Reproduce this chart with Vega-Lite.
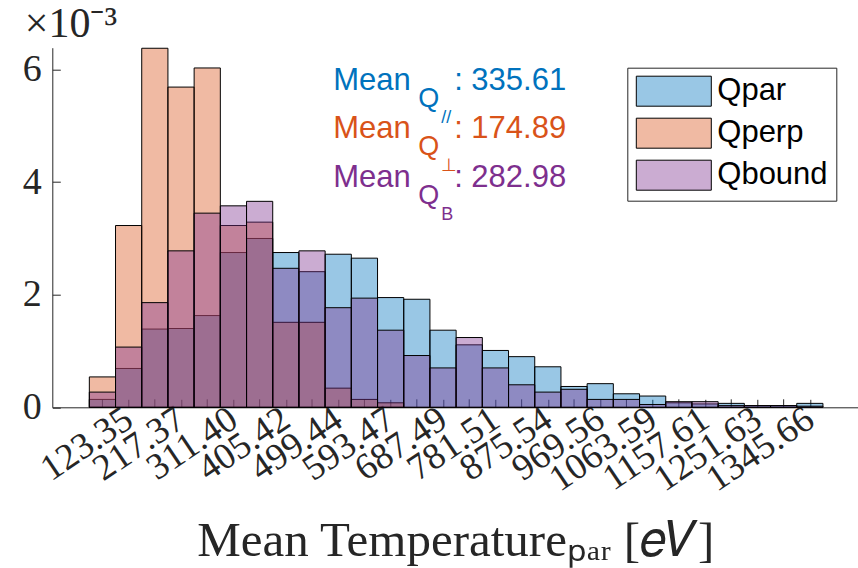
{
  "$schema": "https://vega.github.io/schema/vega-lite/v6.json",
  "width": 806,
  "height": 359.6,
  "autosize": {"type": "none"},
  "padding": {"left": 52.3, "top": 47.7, "right": 0, "bottom": 160.7},
  "background": "white",
  "config": {
    "view": {"stroke": null},
    "axis": {
      "domainColor": "#262626", "tickColor": "#262626", "labelColor": "#262626", "titleColor": "#262626",
      "labelFont": "Liberation Serif", "titleFont": "Liberation Serif", "grid": false,
      "tickSize": -8, "domainWidth": 1, "tickWidth": 1, "titleFontWeight": "normal"
    }
  },
  "datasets": {
    "hist": [
      {"series": "Qpar", "bin_lo": 52.84, "bin_hi": 99.85, "density": 0.00014},
      {"series": "Qpar", "bin_lo": 99.85, "bin_hi": 146.86, "density": 0.00069},
      {"series": "Qpar", "bin_lo": 146.86, "bin_hi": 193.88, "density": 0.00139},
      {"series": "Qpar", "bin_lo": 193.88, "bin_hi": 240.89, "density": 0.0014},
      {"series": "Qpar", "bin_lo": 240.89, "bin_hi": 287.9, "density": 0.00163},
      {"series": "Qpar", "bin_lo": 287.9, "bin_hi": 334.91, "density": 0.00275},
      {"series": "Qpar", "bin_lo": 334.91, "bin_hi": 381.92, "density": 0.003},
      {"series": "Qpar", "bin_lo": 381.92, "bin_hi": 428.93, "density": 0.00275},
      {"series": "Qpar", "bin_lo": 428.93, "bin_hi": 475.95, "density": 0.00241},
      {"series": "Qpar", "bin_lo": 475.95, "bin_hi": 522.96, "density": 0.00272},
      {"series": "Qpar", "bin_lo": 522.96, "bin_hi": 569.97, "density": 0.00265},
      {"series": "Qpar", "bin_lo": 569.97, "bin_hi": 616.98, "density": 0.00195},
      {"series": "Qpar", "bin_lo": 616.98, "bin_hi": 663.99, "density": 0.00192},
      {"series": "Qpar", "bin_lo": 663.99, "bin_hi": 711.0, "density": 0.00137},
      {"series": "Qpar", "bin_lo": 711.0, "bin_hi": 758.02, "density": 0.00111},
      {"series": "Qpar", "bin_lo": 758.02, "bin_hi": 805.03, "density": 0.00101},
      {"series": "Qpar", "bin_lo": 805.03, "bin_hi": 852.04, "density": 0.0009},
      {"series": "Qpar", "bin_lo": 852.04, "bin_hi": 899.05, "density": 0.00072},
      {"series": "Qpar", "bin_lo": 899.05, "bin_hi": 946.06, "density": 0.00037},
      {"series": "Qpar", "bin_lo": 946.06, "bin_hi": 993.07, "density": 0.00042},
      {"series": "Qpar", "bin_lo": 993.07, "bin_hi": 1040.09, "density": 0.00024},
      {"series": "Qpar", "bin_lo": 1040.09, "bin_hi": 1087.1, "density": 0.0002},
      {"series": "Qpar", "bin_lo": 1087.1, "bin_hi": 1134.11, "density": 0.00008},
      {"series": "Qpar", "bin_lo": 1134.11, "bin_hi": 1181.12, "density": 0.00006},
      {"series": "Qpar", "bin_lo": 1181.12, "bin_hi": 1228.13, "density": 0.00007},
      {"series": "Qpar", "bin_lo": 1228.13, "bin_hi": 1275.14, "density": 0.00003},
      {"series": "Qpar", "bin_lo": 1275.14, "bin_hi": 1322.16, "density": 0.00003},
      {"series": "Qpar", "bin_lo": 1322.16, "bin_hi": 1369.17, "density": 0.00007},
      {"series": "Qperp", "bin_lo": 52.84, "bin_hi": 99.85, "density": 0.00054},
      {"series": "Qperp", "bin_lo": 99.85, "bin_hi": 146.86, "density": 0.00323},
      {"series": "Qperp", "bin_lo": 146.86, "bin_hi": 193.88, "density": 0.00638},
      {"series": "Qperp", "bin_lo": 193.88, "bin_hi": 240.89, "density": 0.00569},
      {"series": "Qperp", "bin_lo": 240.89, "bin_hi": 287.9, "density": 0.00603},
      {"series": "Qperp", "bin_lo": 287.9, "bin_hi": 334.91, "density": 0.00323},
      {"series": "Qperp", "bin_lo": 334.91, "bin_hi": 381.92, "density": 0.00329},
      {"series": "Qperp", "bin_lo": 381.92, "bin_hi": 428.93, "density": 0.00151},
      {"series": "Qperp", "bin_lo": 428.93, "bin_hi": 475.95, "density": 0.00151},
      {"series": "Qperp", "bin_lo": 475.95, "bin_hi": 522.96, "density": 0.00034},
      {"series": "Qperp", "bin_lo": 522.96, "bin_hi": 569.97, "density": 0.00014},
      {"series": "Qperp", "bin_lo": 569.97, "bin_hi": 616.98, "density": 0.00008},
      {"series": "Qbound", "bin_lo": 52.84, "bin_hi": 99.85, "density": 0.00027},
      {"series": "Qbound", "bin_lo": 99.85, "bin_hi": 146.86, "density": 0.00107},
      {"series": "Qbound", "bin_lo": 146.86, "bin_hi": 193.88, "density": 0.00186},
      {"series": "Qbound", "bin_lo": 193.88, "bin_hi": 240.89, "density": 0.00278},
      {"series": "Qbound", "bin_lo": 240.89, "bin_hi": 287.9, "density": 0.00345},
      {"series": "Qbound", "bin_lo": 287.9, "bin_hi": 334.91, "density": 0.00358},
      {"series": "Qbound", "bin_lo": 334.91, "bin_hi": 381.92, "density": 0.00366},
      {"series": "Qbound", "bin_lo": 381.92, "bin_hi": 428.93, "density": 0.00247},
      {"series": "Qbound", "bin_lo": 428.93, "bin_hi": 475.95, "density": 0.00278},
      {"series": "Qbound", "bin_lo": 475.95, "bin_hi": 522.96, "density": 0.00177},
      {"series": "Qbound", "bin_lo": 522.96, "bin_hi": 569.97, "density": 0.00194},
      {"series": "Qbound", "bin_lo": 569.97, "bin_hi": 616.98, "density": 0.00137},
      {"series": "Qbound", "bin_lo": 616.98, "bin_hi": 663.99, "density": 0.00092},
      {"series": "Qbound", "bin_lo": 663.99, "bin_hi": 711.0, "density": 0.0007},
      {"series": "Qbound", "bin_lo": 711.0, "bin_hi": 758.02, "density": 0.00124},
      {"series": "Qbound", "bin_lo": 758.02, "bin_hi": 805.03, "density": 0.0007},
      {"series": "Qbound", "bin_lo": 805.03, "bin_hi": 852.04, "density": 0.0004},
      {"series": "Qbound", "bin_lo": 852.04, "bin_hi": 899.05, "density": 0.00027},
      {"series": "Qbound", "bin_lo": 899.05, "bin_hi": 946.06, "density": 0.00032},
      {"series": "Qbound", "bin_lo": 946.06, "bin_hi": 993.07, "density": 0.00014},
      {"series": "Qbound", "bin_lo": 993.07, "bin_hi": 1040.09, "density": 0.00014},
      {"series": "Qbound", "bin_lo": 1040.09, "bin_hi": 1087.1, "density": 0.00005},
      {"series": "Qbound", "bin_lo": 1087.1, "bin_hi": 1134.11, "density": 0.0001},
      {"series": "Qbound", "bin_lo": 1134.11, "bin_hi": 1181.12, "density": 0.0001},
      {"series": "Qbound", "bin_lo": 1181.12, "bin_hi": 1228.13, "density": 0.00003},
      {"series": "Qbound", "bin_lo": 1228.13, "bin_hi": 1275.14, "density": 0.00003},
      {"series": "Qbound", "bin_lo": 1275.14, "bin_hi": 1322.16, "density": 0.00003},
      {"series": "Qbound", "bin_lo": 1322.16, "bin_hi": 1369.17, "density": 0.00002}
    ],
    "minor_ticks": [
      {"center": 76.34}, {"center": 170.36}, {"center": 264.39}, {"center": 358.41},
      {"center": 452.43}, {"center": 546.46}, {"center": 640.48}, {"center": 734.5},
      {"center": 828.52}, {"center": 922.55}, {"center": 1016.57}, {"center": 1110.6},
      {"center": 1204.62}, {"center": 1298.65}
    ],
    "annot": [
      {"series": "Qpar", "sub": "//", "label": ": 335.61"},
      {"series": "Qperp", "sub": "⊥", "label": ": 174.89"},
      {"series": "Qbound", "sub": "B", "label": ": 282.98"}
    ]
  },
  "layer": [
    {
      "data": {"name": "minor_ticks"},
      "mark": {"type": "rule", "color": "#262626", "strokeWidth": 1},
      "encoding": {
        "x": {"field": "center", "type": "quantitative"},
        "y": {"datum": 0, "type": "quantitative", "scale": {"domain": [0, 0.00639], "nice": false}, "axis": null},
        "y2": {"datum": 0.000142}
      }
    },
    {
      "data": {"name": "hist"},
      "mark": {"type": "bar", "fillOpacity": 0.4, "stroke": "black", "strokeWidth": 1, "strokeOpacity": 1},
      "encoding": {
        "x": {
          "field": "bin_lo", "type": "quantitative",
          "scale": {"domain": [-13.6, 1432.6], "nice": false, "zero": false},
          "axis": {
            "values": [123.35, 217.37, 311.4, 405.42, 499.44, 593.47, 687.49, 781.51, 875.54, 969.56, 1063.59, 1157.61, 1251.63, 1345.66],
            "format": ".2f",
            "labelAngle": -34, "labelAlign": "right", "labelBaseline": "middle",
            "labelFontSize": 37, "labelPadding": 16, "labelOverlap": false, "labelFlush": false,
            "title": "Mean Temperatureₚₐᵣ [𝑒𝑉]", "titleFontSize": 49, "titleY": 148, "titleBaseline": "alphabetic"
          }
        },
        "x2": {"field": "bin_hi"},
        "y": {
          "field": "density", "type": "quantitative", "stack": null,
          "scale": {"domain": [0, 0.00639], "nice": false},
          "axis": {
            "values": [0, 0.002, 0.004, 0.006],
            "labelExpr": "format(datum.value * 1000, 'd')",
            "labelFontSize": 38, "labelPadding": 19,
            "title": "×10⁻³", "titleAngle": 0, "titleX": -28, "titleY": -11,
            "titleAlign": "left", "titleBaseline": "alphabetic", "titleFontSize": 42
          }
        },
        "y2": {"datum": 0},
        "color": {
          "field": "series", "type": "nominal",
          "scale": {"domain": ["Qpar", "Qperp", "Qbound"], "range": ["#0072BD", "#D95319", "#7E2F8E"]},
          "legend": {
            "orient": "none", "legendX": 575, "legendY": 20, "title": null,
            "symbolType": "M-2.5,-1H2.5V1H-2.5Z", "symbolSize": 900,
            "symbolOffset": 23, "labelOffset": 28,
            "labelFont": "Liberation Sans", "labelFontSize": 31, "labelColor": "black",
            "padding": 8, "rowPadding": 7,
            "strokeColor": "#262626", "fillColor": "white",
            "symbolStrokeColor": "black", "symbolStrokeWidth": 1,
            "encode": {"symbols": {"update": {"fillOpacity": {"value": 0.4}, "strokeOpacity": {"value": 1}, "opacity": {"value": 1}}}}
          }
        }
      }
    },
    {
      "data": {"name": "annot"},
      "mark": {"type": "text", "text": "Mean", "font": "Liberation Sans", "fontSize": 31, "align": "left", "baseline": "alphabetic"},
      "encoding": {
        "x": {"datum": 490.3, "type": "quantitative"},
        "y": {"field": "series", "type": "nominal", "scale": {"type": "point", "domain": ["Qpar", "Qperp", "Qbound"], "range": [42, 139], "padding": 0}, "axis": null},
        "color": {"field": "series", "type": "nominal"}
      }
    },
    {
      "data": {"name": "annot"},
      "mark": {"type": "text", "text": "Q", "font": "Liberation Sans", "fontSize": 27, "align": "left", "baseline": "alphabetic", "dx": 85, "dy": 17},
      "encoding": {
        "x": {"datum": 490.3, "type": "quantitative"},
        "y": {"field": "series", "type": "nominal", "scale": {"type": "point", "domain": ["Qpar", "Qperp", "Qbound"], "range": [42, 139], "padding": 0}, "axis": null},
        "color": {"field": "series", "type": "nominal"}
      }
    },
    {
      "data": {"name": "annot"},
      "mark": {"type": "text", "font": "Liberation Sans", "fontSize": 18, "align": "left", "baseline": "alphabetic", "dx": 108, "dy": 33},
      "encoding": {
        "x": {"datum": 490.3, "type": "quantitative"},
        "y": {"field": "series", "type": "nominal", "scale": {"type": "point", "domain": ["Qpar", "Qperp", "Qbound"], "range": [42, 139], "padding": 0}, "axis": null},
        "text": {"field": "sub"},
        "color": {"field": "series", "type": "nominal"}
      }
    },
    {
      "data": {"name": "annot"},
      "mark": {"type": "text", "font": "Liberation Sans", "fontSize": 31, "align": "left", "baseline": "alphabetic", "dx": 121},
      "encoding": {
        "x": {"datum": 490.3, "type": "quantitative"},
        "y": {"field": "series", "type": "nominal", "scale": {"type": "point", "domain": ["Qpar", "Qperp", "Qbound"], "range": [42, 139], "padding": 0}, "axis": null},
        "text": {"field": "label"},
        "color": {"field": "series", "type": "nominal"}
      }
    }
  ],
  "resolve": {"scale": {"y": "independent"}}
}
